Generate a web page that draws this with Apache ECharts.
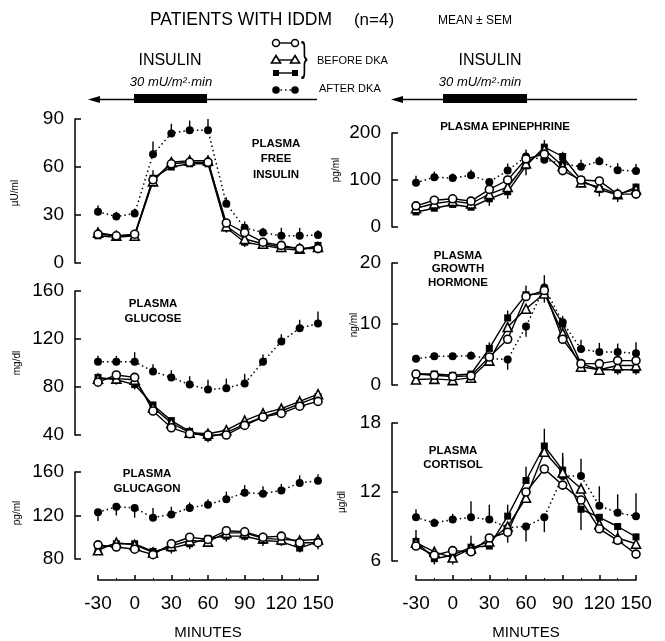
<!DOCTYPE html>
<html>
<head>
<meta charset="utf-8">
<script src="https://cdn.jsdelivr.net/npm/echarts@6/dist/echarts.min.js"></script>
<style>html,body{margin:0;padding:0;background:#fff}#c{width:665px;height:641px}</style>
</head>
<body>
<div id="c"></div>
<script>
// ---- data ----
const minutes = [-30, -15, 0, 15, 30, 45, 60, 75, 90, 105, 120, 135, 150];
const xTicks = [-30, 0, 30, 60, 90, 120, 150];

// Plasma free insulin (µU/ml)
const insulinCircle   = [18, 17, 18, 52, 62, 63, 63, 25, 19, 13, 11, 9, 9];
const insulinTriangle = [19, 17, 17, 51, 63, 64, 64, 23, 15, 12, 10, 9, 10];
const insulinSquare   = [17, 16, 17, 53, 60, 62, 62, 22, 13, 11, 9, 8, 11];
const insulinAfter    = [32, 29, 31, 68, 81, 83, 83, 37, 22, 19, 17, 17, 17.5];
const insulinAfterSem = [4, 3, 3, 8, 6, 6, 7, 4, 4, 3, 5, 5, 3];
const insulinSquareSem= [2, 2, 2, 5, 4, 3, 3, -3, -3, -2, -2, -2, -2];

// Plasma glucose (mg/dl)
const glucoseCircle   = [84, 90, 88, 60, 46, 41, 40, 40, 48, 55, 58, 64, 68];
const glucoseTriangle = [87, 87, 86, 63, 50, 42, 41, 44, 52, 58, 62, 68, 74];
const glucoseSquare   = [88, 86, 82, 65, 52, 43, 38, 42, 49, 55, 60, 66, 72];
const glucoseAfter    = [101, 101, 101, 93, 88, 82, 78, 79, 83, 101, 118, 129, 133];
const glucoseAfterSem = [5, 5, 8, 6, 6, 7, 8, 8, 8, 6, 6, 7, 10];
const glucoseSquareSem= [-4, -4, -4, -4, -4, -4, -4, -4, -4, -4, -4, -4, -4];

// Plasma glucagon (pg/ml)
const glucagonCircle   = [93, 91, 89, 84, 94, 100, 98, 106, 105, 100, 101, 95, 95];
const glucagonTriangle = [88, 95, 93, 86, 92, 97, 96, 104, 104, 99, 98, 97, 98];
const glucagonSquare   = [90, 94, 94, 87, 90, 94, 99, 101, 101, 97, 96, 90, 96];
const glucagonAfter    = [123, 128, 127, 118, 121, 127, 130, 135, 141, 140, 143, 150, 152];
const glucagonAfterSem = [-8, -8, -9, 9, 7, 5, 5, 7, 7, 7, 6, 7, 6];
const glucagonSquareSem= [-5, -5, -5, -5, -5, -5, -7, -5, -4, -5, -4, -4, -7];

// Plasma epinephrine (pg/ml)
const epiCircle   = [45, 57, 60, 55, 80, 100, 145, 155, 120, 100, 98, 70, 70];
const epiTriangle = [40, 50, 55, 50, 70, 85, 135, 165, 130, 95, 85, 70, 80];
const epiSquare   = [32, 40, 48, 42, 60, 75, 130, 170, 150, 100, 80, 68, 85];
const epiAfter    = [94, 106, 104, 110, 96, 120, 150, 143, 135, 128, 140, 121, 119];
const epiAfterSem = [15, 12, 10, 12, -15, 15, 15, 20, 15, 15, 10, 15, 15];
const epiSquareSem= [10, 10, 10, 10, -15, -15, -20, 15, 10, -10, -15, -15, -10];

// Plasma growth hormone (ng/ml)
const ghCircle   = [1.8, 1.6, 1.4, 1.5, 4.6, 7.5, 14.5, 15.5, 7.5, 3.5, 3.5, 4.0, 4.0];
const ghTriangle = [0.9, 1.0, 0.8, 1.2, 4.0, 9.5, 12.5, 15.0, 8.5, 3.0, 2.5, 3.2, 3.2];
const ghSquare   = [1.8, 1.8, 1.6, 1.8, 6.0, 11.0, 14.8, 15.0, 10.0, 3.5, 2.5, 2.5, 2.5];
const ghAfter    = [4.3, 4.7, 4.7, 4.8, 4.3, 4.2, 9.6, 16.0, 10.3, 5.9, 5.4, 5.4, 5.2];
const ghAfterSem = [0.5, 0.6, 0.5, 0.7, 0.4, -1.7, -1.7, 2.0, 1.0, 1.5, 1.5, 1.4, 1.8];
const ghSquareSem= [-0.8, -0.8, -0.8, -0.8, 1, 1.2, 1.5, -1.5, -1, -0.8, -0.8, -0.8, -0.8];

// Plasma cortisol (µg/dl)
const cortisolCircle   = [7.3, 6.5, 6.9, 6.8, 8.0, 8.5, 12.0, 14.0, 12.6, 11.3, 8.8, 7.8, 6.6];
const cortisolTriangle = [7.6, 6.8, 6.3, 7.1, 7.7, 9.0, 11.5, 15.5, 13.7, 12.3, 9.2, 8.0, 7.5];
const cortisolSquare   = [7.7, 6.2, 6.5, 7.2, 7.3, 9.9, 13.0, 16.0, 13.9, 10.5, 9.8, 9.0, 8.1];
const cortisolAfter    = [9.8, 9.3, 9.6, 9.8, 9.6, 8.9, 9.0, 9.8, 13.4, 13.4, 10.8, 10.2, 9.9];
const cortisolAfterSem = [0.7, 0.4, 0.5, 1.4, 1.3, -1.3, -1.3, -1.3, 1.6, 1.5, 1.7, 1.6, 2.0];
const cortisolSquareSem= [1.0, -0.5, -0.8, 1.0, 1.0, 1.0, 1.2, 1.5, 1.5, -1.8, -1.0, -1.0, -1.0];

// ---- layout ----
const FONT = 'Liberation Sans, Arial, sans-serif';
const panels = [
  {grid:{left:98, top:119, width:220, height:144}, min:0, max:90, interval:30, offset:23,
   s:[insulinCircle, insulinTriangle, insulinSquare, insulinAfter], semA:insulinAfterSem, semS:insulinSquareSem, xAxis:false},
  {grid:{left:98, top:291, width:220, height:144}, min:40, max:160, interval:40, offset:23,
   s:[glucoseCircle, glucoseTriangle, glucoseSquare, glucoseAfter], semA:glucoseAfterSem, semS:glucoseSquareSem, xAxis:false},
  {grid:{left:98, top:472, width:220, height:95}, min:80, max:160, interval:40, offset:23,
   s:[glucagonCircle, glucagonTriangle, glucagonSquare, glucagonAfter], semA:glucagonAfterSem, semS:glucagonSquareSem, xAxis:true, xOffset:21},
  {grid:{left:416, top:133, width:220, height:94}, min:0, max:200, interval:100, offset:24,
   s:[epiCircle, epiTriangle, epiSquare, epiAfter], semA:epiAfterSem, semS:epiSquareSem, xAxis:false},
  {grid:{left:416, top:263, width:220, height:122}, min:0, max:20, interval:10, offset:24,
   s:[ghCircle, ghTriangle, ghSquare, ghAfter], semA:ghAfterSem, semS:ghSquareSem, xAxis:false},
  {grid:{left:416, top:423, width:220, height:143}, min:6, max:18, interval:6, offset:24,
   s:[cortisolCircle, cortisolTriangle, cortisolSquare, cortisolAfter], semA:cortisolAfterSem, semS:cortisolSquareSem, xAxis:true, xOffset:19}
];

const grids = [], xAxes = [], yAxes = [], series = [];
function pairs(arr){ return minutes.map((m,i)=>[m, arr[i]]); }
function errData(vals, sem){ return minutes.map((m,i)=>[m, vals[i], sem[i]]); }
function errRender(params, api){
  const p0 = api.coord([api.value(0), api.value(1)]);
  const p1 = api.coord([api.value(0), api.value(1) + api.value(2)]);
  return {type:'line', shape:{x1:p0[0], y1:p0[1], x2:p1[0], y2:p1[1]}, style:{stroke:'#000', lineWidth:1.4}};
}

panels.forEach((p, i) => {
  grids.push(Object.assign({containLabel:false}, p.grid));
  xAxes.push({
    gridIndex:i, type:'value', min:-30, max:150, interval:30,
    show:p.xAxis, offset:p.xOffset || 0, position:'bottom',
    axisLine:{show:true, onZero:false, lineStyle:{color:'#000', width:1.5}},
    axisTick:{show:true, inside:true, length:5, lineStyle:{color:'#000', width:1.5}},
    minorTick:{show:true, splitNumber:2, length:2, lineStyle:{color:'#000', width:1}},
    axisLabel:{show:true, color:'#000', fontSize:19, fontFamily:FONT, margin:14},
    splitLine:{show:false},
    name:'MINUTES', nameLocation:'middle', nameGap:45,
    nameTextStyle:{color:'#000', fontSize:15, fontFamily:FONT}
  });
  yAxes.push({
    gridIndex:i, type:'value', min:p.min, max:p.max, interval:p.interval, offset:p.offset,
    position:'left',
    axisLine:{show:true, onZero:false, lineStyle:{color:'#000', width:1.5}},
    axisTick:{show:true, inside:true, length:6, lineStyle:{color:'#000', width:1.5}},
    axisLabel:{color:'#000', fontSize:19, fontFamily:FONT, margin:11},
    splitLine:{show:false}
  });
  // error bars
  series.push({type:'custom', xAxisIndex:i, yAxisIndex:i, renderItem:errRender, data:errData(p.s[3], p.semA), z:1, silent:true, clip:false});
  series.push({type:'custom', xAxisIndex:i, yAxisIndex:i, renderItem:errRender, data:errData(p.s[2], p.semS), z:1, silent:true, clip:false});
  const base = {type:'line', xAxisIndex:i, yAxisIndex:i, clip:false, z:3, silent:true, animation:false};
  series.push(Object.assign({}, base, {data:pairs(p.s[3]), symbol:'circle', symbolSize:8,
    itemStyle:{color:'#000'}, lineStyle:{color:'#000', width:1.5, type:[1.5,3]}}));
  series.push(Object.assign({}, base, {data:pairs(p.s[2]), symbol:'rect', symbolSize:7,
    itemStyle:{color:'#000'}, lineStyle:{color:'#000', width:1.4}}));
  series.push(Object.assign({}, base, {data:pairs(p.s[1]), symbol:'triangle', symbolSize:9,
    itemStyle:{color:'#fff', borderColor:'#000', borderWidth:1.6}, lineStyle:{color:'#000', width:1.4}}));
  series.push(Object.assign({}, base, {data:pairs(p.s[0]), symbol:'circle', symbolSize:8,
    itemStyle:{color:'#fff', borderColor:'#000', borderWidth:1.6}, lineStyle:{color:'#000', width:1.4}}));
});

function txt(text, x, y, size, opts){
  return Object.assign({type:'text', x:x, y:y, z:10, silent:true,
    style:Object.assign({text:text, fill:'#000', fontSize:size, fontFamily:FONT, align:'center', verticalAlign:'middle'}, opts||{})});
}
function rot(text, x, y){
  return {type:'text', x:x, y:y, rotation:Math.PI/2, z:10, silent:true,
    style:{text:text, fill:'#000', fontSize:10, fontFamily:FONT, align:'center', verticalAlign:'middle'}};
}
const graphics = [
  txt('PATIENTS WITH IDDM', 241, 20, 17.5),
  txt('(n=4)', 374, 20, 17),
  txt('MEAN ± SEM', 475, 21, 12),
  // insulin infusion annotations
  txt('INSULIN', 170, 61, 16),
  txt('30 mU/m²·min', 171, 82, 13, {fontStyle:'italic'}),
  txt('INSULIN', 490, 61, 16),
  txt('30 mU/m²·min', 480, 82, 13, {fontStyle:'italic'}),
  {type:'line', shape:{x1:95, y1:99.5, x2:317, y2:99.5}, style:{stroke:'#000', lineWidth:1.6}},
  {type:'polygon', shape:{points:[[88,99.5],[100,96],[100,103]]}, style:{fill:'#000'}},
  {type:'rect', shape:{x:134, y:94, width:73, height:9}, style:{fill:'#000'}},
  {type:'line', shape:{x1:398, y1:99.5, x2:637, y2:99.5}, style:{stroke:'#000', lineWidth:1.6}},
  {type:'polygon', shape:{points:[[391,99.5],[403,96],[403,103]]}, style:{fill:'#000'}},
  {type:'rect', shape:{x:443, y:94, width:84, height:9}, style:{fill:'#000'}},
  // legend
  {type:'line', shape:{x1:276, y1:43, x2:295, y2:43}, style:{stroke:'#000', lineWidth:1.4}},
  {type:'circle', shape:{cx:276, cy:43, r:3.5}, style:{fill:'#fff', stroke:'#000', lineWidth:1.5}},
  {type:'circle', shape:{cx:295, cy:43, r:3.5}, style:{fill:'#fff', stroke:'#000', lineWidth:1.5}},
  {type:'line', shape:{x1:276, y1:60, x2:295, y2:60}, style:{stroke:'#000', lineWidth:1.4}},
  {type:'polygon', shape:{points:[[276,55.5],[280.5,63],[271.5,63]]}, style:{fill:'#fff', stroke:'#000', lineWidth:1.6}},
  {type:'polygon', shape:{points:[[295,55.5],[299.5,63],[290.5,63]]}, style:{fill:'#fff', stroke:'#000', lineWidth:1.6}},
  {type:'line', shape:{x1:276, y1:73, x2:295, y2:73}, style:{stroke:'#000', lineWidth:1.4}},
  {type:'rect', shape:{x:273, y:70, width:6, height:6}, style:{fill:'#000'}},
  {type:'rect', shape:{x:292, y:70, width:6, height:6}, style:{fill:'#000'}},
  {type:'line', shape:{x1:276, y1:90, x2:295, y2:90}, style:{stroke:'#000', lineWidth:1.5, lineDash:[1.5,3]}},
  {type:'circle', shape:{cx:276, cy:90, r:3.8}, style:{fill:'#000'}},
  {type:'circle', shape:{cx:295, cy:90, r:3.8}, style:{fill:'#000'}},
  {type:'text', x:301, y:60, z:10, style:{text:'}', fill:'#000', fontSize:40, fontFamily:FONT, align:'left', verticalAlign:'middle', fontWeight:'lighter'}, scaleX:0.5},
  txt('BEFORE DKA', 317, 61, 11, {align:'left'}),
  txt('AFTER DKA', 319, 89, 11, {align:'left'}),
  // panel titles
  txt('PLASMA\nFREE\nINSULIN', 276, 159, 11.5, {fontWeight:'bold', lineHeight:15.5}),
  txt('PLASMA\nGLUCOSE', 153, 311, 11.5, {fontWeight:'bold', lineHeight:15}),
  txt('PLASMA\nGLUCAGON', 147, 481, 11.5, {fontWeight:'bold', lineHeight:15}),
  txt('PLASMA EPINEPHRINE', 505, 127, 11.5, {fontWeight:'bold'}),
  txt('PLASMA\nGROWTH\nHORMONE', 458, 269, 11.5, {fontWeight:'bold', lineHeight:13.5}),
  txt('PLASMA\nCORTISOL', 453, 458, 11.5, {fontWeight:'bold', lineHeight:13.5}),
  // unit labels (rotated, reading bottom to top)
  rot('µU/ml', 15, 193),
  rot('mg/dl', 17, 363),
  rot('pg/ml', 17, 513),
  rot('pg/ml', 336, 170),
  rot('ng/ml', 354, 325),
  rot('µg/dl', 342, 502)
];

const chart = echarts.init(document.getElementById('c'), null, {renderer:'canvas'});
chart.setOption({
  backgroundColor:'#fff',
  animation:false,
  grid:grids, xAxis:xAxes, yAxis:yAxes, series:series,
  graphic:graphics
});
</script>
</body>
</html>
